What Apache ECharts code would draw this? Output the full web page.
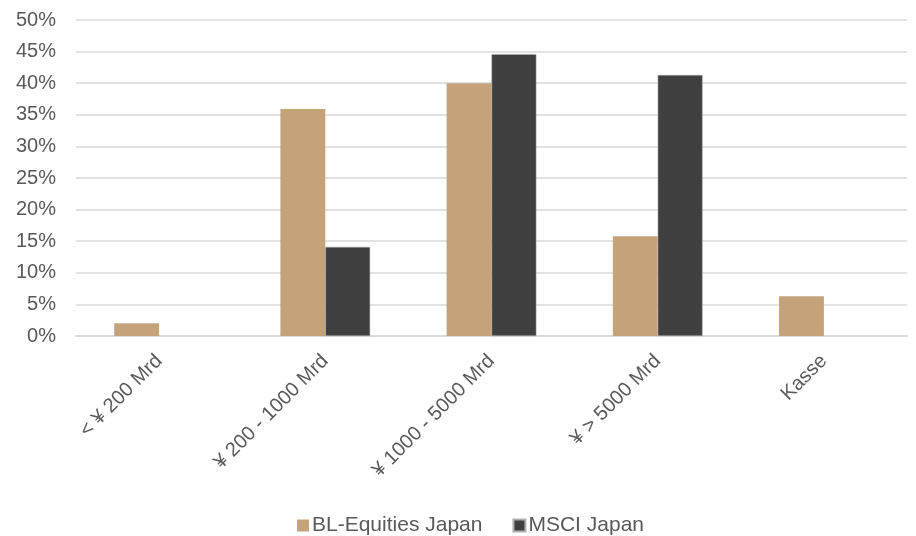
<!DOCTYPE html>
<html><head><meta charset="utf-8">
<script src="https://cdn.jsdelivr.net/npm/echarts@6/dist/echarts.min.js"></script>
<style>html,body{margin:0;padding:0;background:#fff}#c{width:916px;height:536px}</style>
</head><body><div id="c"></div>
<script>
const categories = ['< ¥ 200 Mrd', '¥ 200 - 1000 Mrd', '¥ 1000 - 5000 Mrd', '¥ > 5000 Mrd', 'Kasse'];
const blEquities = [2.0, 35.9, 40.0, 15.8, 6.3];
const msciJapan = [null, 14.1, 44.6, 41.3, null];
const seriesNames = ['BL-Equities Japan', 'MSCI Japan'];

const chart = echarts.init(document.getElementById('c'));
const font = 'Arial, "Liberation Sans", sans-serif';
chart.setOption({
  animation: false,
  grid: {left: 76, right: 9, top: 20, bottom: 200, containLabel: false},
  legend: {
    bottom: -5, left: 292, itemWidth: 12, itemHeight: 12, itemGap: 30,
    icon: 'rect',
    textStyle: {fontFamily: font, fontSize: 21, color: '#595959', padding: [0,0,0,-2]},
    data: seriesNames
  },
  xAxis: {
    type: 'category', data: categories,
    axisLine: {lineStyle: {color: '#d9d9d9', width: 2}},
    axisTick: {show: false},
    axisLabel: {rotate: 45, fontFamily: font, fontSize: 20, color: '#595959', margin: 22, interval: 0}
  },
  yAxis: {
    type: 'value', min: 0, max: 50, interval: 5,
    axisLine: {show: false}, axisTick: {show: false},
    splitLine: {lineStyle: {color: '#d9d9d9', width: 1.5}},
    axisLabel: {formatter: '{value}%', fontFamily: font, fontSize: 20, color: '#595959', margin: 20}
  },
  series: [
    {name: seriesNames[0], type: 'bar', data: blEquities, barGap: '0%', barCategoryGap: '46%',
     itemStyle: {color: '#c4a37b'}},
    {name: seriesNames[1], type: 'bar', data: msciJapan,
     itemStyle: {color: '#404040', borderColor: '#b0b0b0', borderWidth: 0.5}}
  ]
});
</script></body></html>
